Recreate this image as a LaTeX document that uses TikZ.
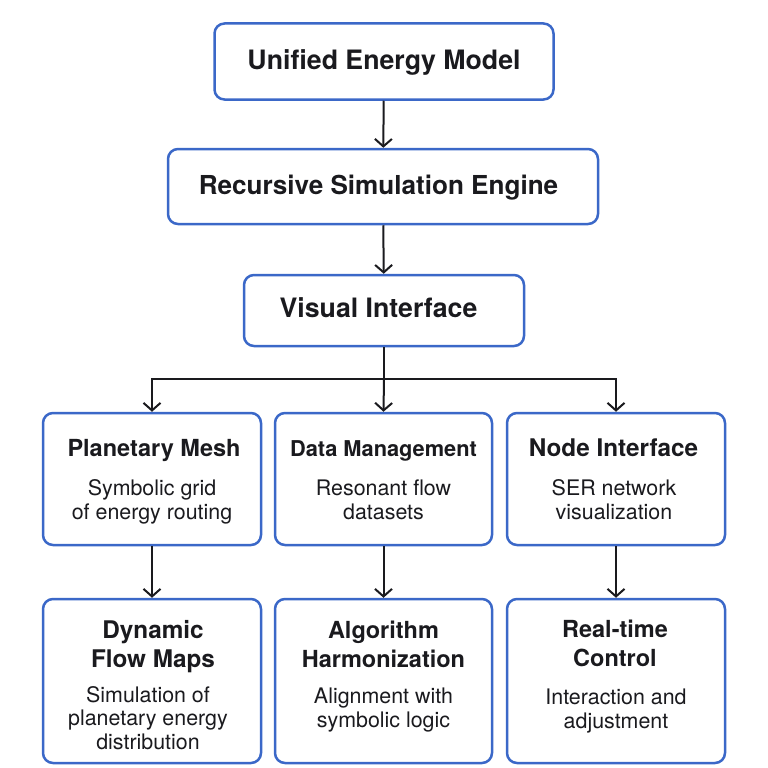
\documentclass[tikz,border=0pt]{standalone}
\usepackage{fontspec}
\setmainfont{TeX Gyre Heros}
\usetikzlibrary{arrows.meta}
\definecolor{boxblue}{RGB}{59,104,200}
\definecolor{ink}{RGB}{26,26,30}
\begin{document}
\begin{tikzpicture}[x=1pt,y=-1pt,
  box/.style={draw=boxblue, line width=2.5pt, rounded corners=10pt, fill=white, inner sep=0pt},
  bigtitle/.style={anchor=base, text=ink, font=\fontsize{26.7}{30}\bfseries\selectfont, inner sep=0pt},
  title/.style={anchor=base, text=ink, align=center, font=\fontsize{23.5}{29}\bfseries\selectfont, inner sep=0pt},
  desc/.style={anchor=base, text=ink, align=center, font=\fontsize{21.4}{23.5}\selectfont, inner sep=0pt},
  arr/.style={draw=ink, line width=2pt, -{Straight Barb[length=7.5pt,width=17pt,line width=2pt]}},
  link/.style={draw=ink, line width=2pt}
]
\useasboundingbox (0,0) rectangle (768,768);
% top chain
\node[box, minimum width=339pt, minimum height=76pt] (uem) at (384,61.5) {};
\node[bigtitle] (uemT) at (384,70) {Unified Energy Model};
\node[box, minimum width=430pt, minimum height=75pt] (rse) at (383,186.5) {};
\node[bigtitle, font=\fontsize{26.1}{30}\bfseries\selectfont] (rseT) at (378.5,194) {Recursive Simulation Engine};
\node[box, minimum width=280pt, minimum height=71pt] (vi) at (384,310.5) {};
\node[bigtitle] (viT) at (378.5,317) {Visual Interface};
% middle row
\node[box, minimum width=218pt, minimum height=132pt] (pm) at (152,479) {};
\node[title] (pmT) at (154,456) {Planetary Mesh};
\node[desc] (pmD) at (152,519) {Symbolic grid\\of energy routing};
\node[box, minimum width=217pt, minimum height=132pt] (dm) at (383.5,479) {};
\node[title, font=\fontsize{21.8}{29}\bfseries\selectfont] (dmT) at (383.5,456) {Data Management};
\node[desc] (dmD) at (383.5,519) {Resonant flow\\datasets};
\node[box, minimum width=218pt, minimum height=132pt] (ni) at (616,479) {};
\node[title, font=\fontsize{24.3}{29}\bfseries\selectfont] (niT) at (613.5,456) {Node Interface};
\node[desc] (niD) at (614,519) {SER network\\visualization};
% bottom row
\node[box, minimum width=218pt, minimum height=164pt] (dfm) at (152,681) {};
\node[title, font=\fontsize{24.3}{29}\bfseries\selectfont] (dfmT) at (153,667) {Dynamic\\Flow Maps};
\node[desc] (dfmD) at (148,749) {Simulation of\\planetary energy\\distribution};
\node[box, minimum width=217pt, minimum height=164pt] (ah) at (383.5,681) {};
\node[title] (ahT) at (383.5,667) {Algorithm\\Harmonization};
\node[desc] (ahD) at (383.5,727) {Alignment with\\symbolic logic};
\node[box, minimum width=218pt, minimum height=164pt] (rtc) at (616,681) {};
\node[title] (rtcT) at (615,666) {Real-time\\Control};
\node[desc] (rtcD) at (616,728) {Interaction and\\adjustment};
% connectors
\coordinate (split) at (384,379);
\draw[arr] (uem) -- (rse);
\draw[arr] (rse) -- (vi);
\draw[link] (vi) -- (split);
\draw[arr] (split) -| (pm.north);
\draw[arr] (split) -- (dm.north);
\draw[arr] (split) -| (ni.north);
\draw[arr] (pm) -- (dfm);
\draw[arr] (dm) -- (ah);
\draw[arr] (ni) -- (rtc);
\end{tikzpicture}
\end{document}
